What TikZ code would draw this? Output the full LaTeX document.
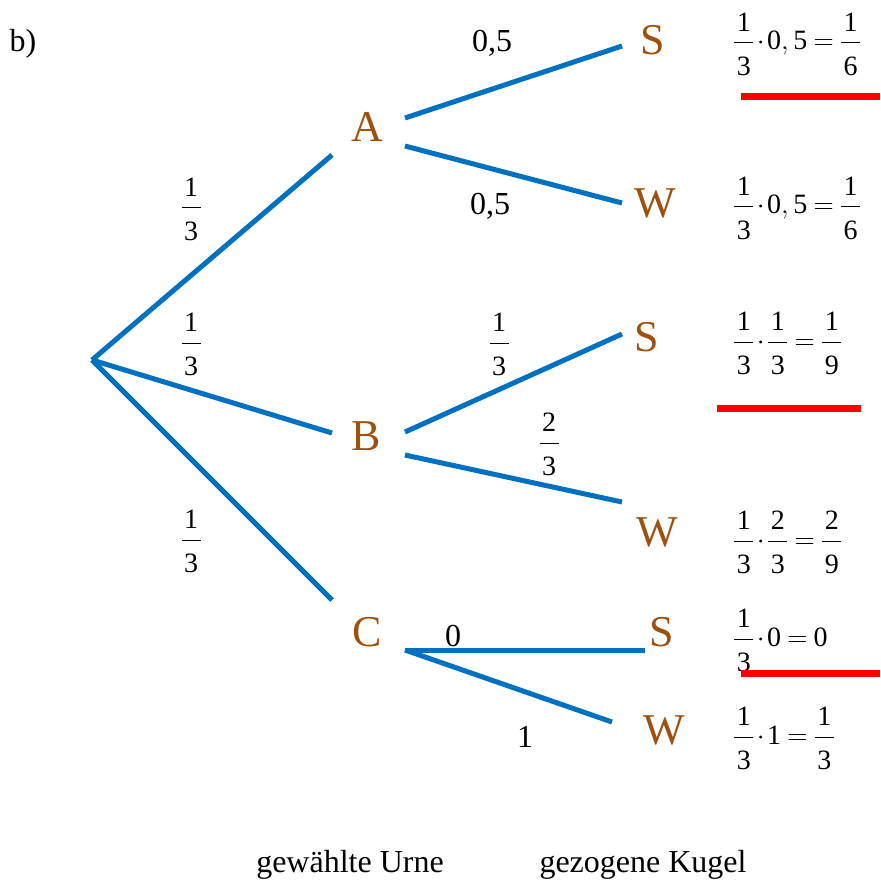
\RequirePackage{fix-cm}
\documentclass[tikz,border=0pt]{standalone}
\usepackage{amsmath}
\usepackage{fontspec}
\setmainfont{Liberation Serif}
\definecolor{treeblue}{RGB}{0,112,192}
\definecolor{letterbrown}{RGB}{158,80,14}
\definecolor{markred}{RGB}{255,0,0}
\newcommand\fr[2]{\genfrac{}{}{1pt}{0}{\kern2.5pt\text{#1}\kern2.5pt}{\kern2.5pt\raisebox{-6pt}{\text{#2}}\kern2.5pt}}
\newcommand\tdot{\mskip1.5mu{\cdot}\mskip1.5mu}
\newcommand\teq{\mskip4mu{=}\mskip4mu}
\begin{document}
\begin{tikzpicture}[x=1pt,y=-1pt,
  branch/.style={line width=5pt, draw=treeblue},
  letter/.style={text=letterbrown, font=\fontsize{44}{48}\selectfont, inner sep=0pt},
  prob/.style={font=\fontsize{32}{36}\selectfont, inner sep=0pt},
  fracl/.style={font=\fontsize{28}{30}\selectfont, inner sep=0pt, anchor=base},
  result/.style={font=\fontsize{28}{30}\selectfont, inner sep=0pt, anchor=base west},
  redbar/.style={line width=7pt, draw=markred},
  caption/.style={font=\fontsize{32}{36}\selectfont, inner sep=0pt}]
\useasboundingbox (0,0) rectangle (880,885);

% label b)
\node[prob] (lab) at (23,44) {b)};

% letters
\node[letter] (A) at (367,127) {A};
\node[letter] (B) at (366,436) {B};
\node[letter] (C) at (367,632) {C};
\node[letter] (AS) at (653,40) {S};
\node[letter] (AW) at (655,203) {W};
\node[letter] (BS) at (647,337) {S};
\node[letter] (BW) at (657,532) {W};
\node[letter] (CS) at (662,632) {S};
\node[letter] (CW) at (664,730) {W};

% branch end points
\coordinate (r) at (92,360);
\coordinate (Ain) at (332,155);
\coordinate (Bin) at (332,433);
\coordinate (Cin) at (332,600);
\coordinate (Aout1) at (405,118);
\coordinate (Aout2) at (405,146);
\coordinate (Bout1) at (405,432);
\coordinate (Bout2) at (405,455);
\coordinate (Cout) at (405,650);
\coordinate (ASin) at (622,46);
\coordinate (AWin) at (622,203);
\coordinate (BSin) at (622,334);
\coordinate (BWin) at (622,502);
\coordinate (CSin) at (645,650);
\coordinate (CWin) at (612,722);

% branches
\draw[branch] (r) -- (Ain);
\draw[branch] (r) -- (Bin);
\draw[branch] (r) -- (Cin);
\draw[branch] (Aout1) -- (ASin);
\draw[branch] (Aout2) -- (AWin);
\draw[branch] (Bout1) -- (BSin);
\draw[branch] (Bout2) -- (BWin);
\draw[branch] (Cout) -- (CSin);
\draw[branch] (Cout) -- (CWin);

% probabilities (fraction bar 7pt above the given base point)
\node[fracl] (p1) at (191,215) {$\fr{1}{3}$};
\node[fracl] (p2) at (191,350) {$\fr{1}{3}$};
\node[fracl] (p3) at (191,547) {$\fr{1}{3}$};
\node[prob] (p4) at (492,43) {0,5};
\node[prob] (p5) at (490,206) {0,5};
\node[fracl] (p6) at (499,350) {$\fr{1}{3}$};
\node[fracl] (p7) at (549,450) {$\fr{2}{3}$};
\node[prob] (p8) at (453,636) {0};
\node[prob] (p9) at (525,737) {1};

% results
\node[result] (r1) at (733,50) {$\fr{1}{3}\tdot\text{0},\text{5}\teq\fr{1}{6}$};
\node[result] (r2) at (733,214) {$\fr{1}{3}\tdot\text{0},\text{5}\teq\fr{1}{6}$};
\node[result] (r3) at (733,349) {$\fr{1}{3}\tdot\fr{1}{3}\teq\fr{1}{9}$};
\node[result] (r4) at (733,548) {$\fr{1}{3}\tdot\fr{2}{3}\teq\fr{2}{9}$};
\node[result] (r5) at (733,646) {$\fr{1}{3}\tdot\text{0}\teq\text{0}$};
\node[result] (r6) at (733,744) {$\fr{1}{3}\tdot\text{1}\teq\fr{1}{3}$};

% red underlines
\coordinate (u1a) at (741,97);  \coordinate (u1b) at (880,97);
\coordinate (u2a) at (717,408); \coordinate (u2b) at (861,408);
\coordinate (u3a) at (741,673); \coordinate (u3b) at (880,673);
\draw[redbar] (u1a) -- (u1b);
\draw[redbar] (u2a) -- (u2b);
\draw[redbar] (u3a) -- (u3b);

% captions
\node[caption] (c1) at (350,865) {gewählte Urne};
\node[caption] (c2) at (643,865) {gezogene Kugel};
\end{tikzpicture}
\end{document}
